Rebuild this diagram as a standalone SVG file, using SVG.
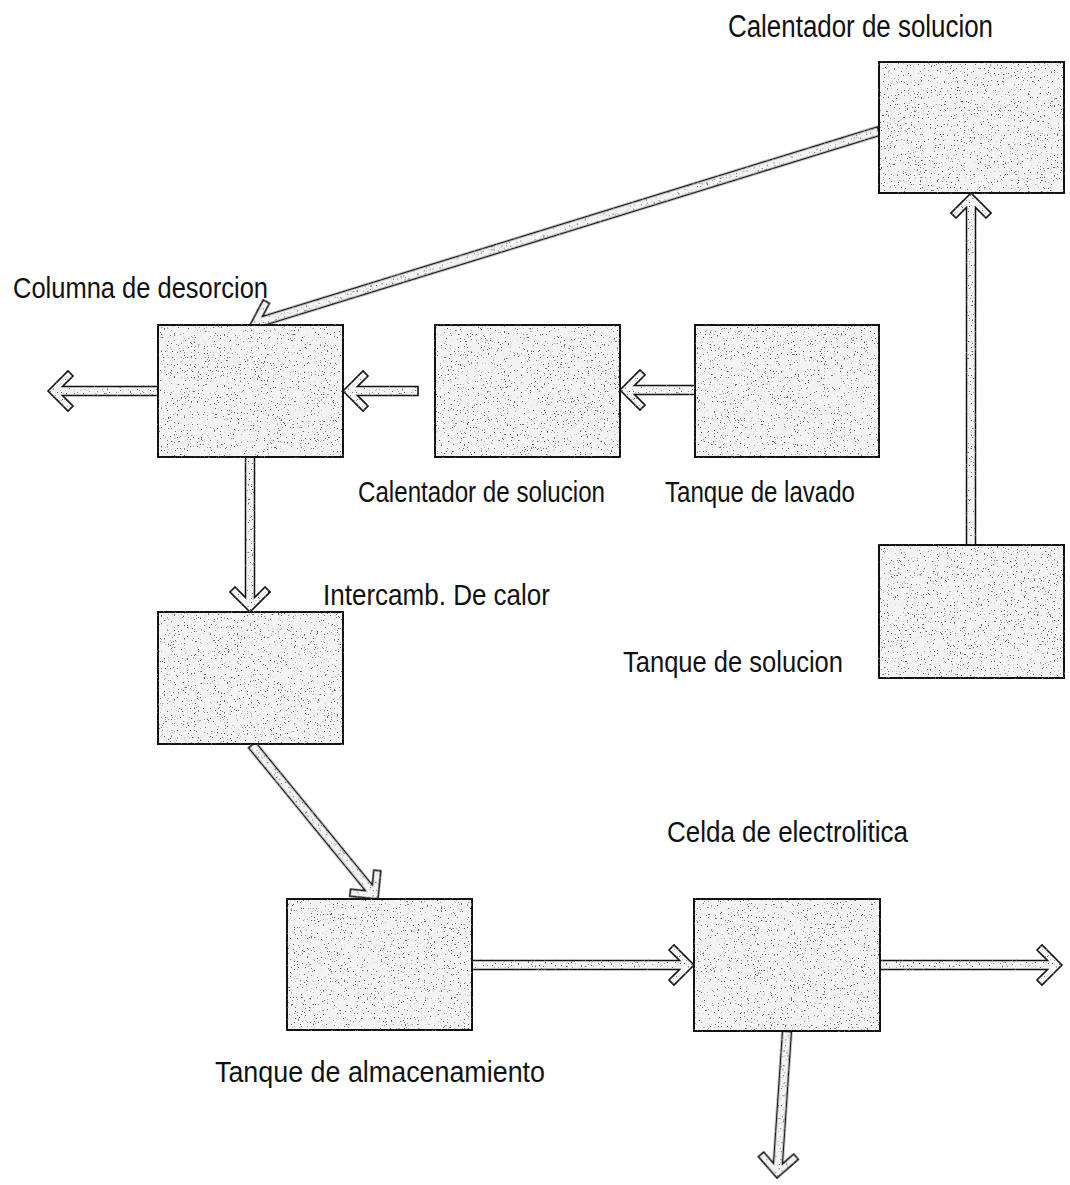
<svg xmlns="http://www.w3.org/2000/svg" width="1070" height="1185" viewBox="0 0 1070 1185">
  <style>
    .box { fill: #f3f3f3; stroke: #111; stroke-width: 2; filter: url(#stipple); }
    .pipe { fill: #f3f3f3; stroke: #111; stroke-width: 1.6; stroke-linejoin: miter; filter: url(#stipple); }
    .lbl { font-family: "Liberation Sans", Arial, sans-serif; font-size: 29px; fill: #111; }
  </style>
  <defs>
    <!-- speckled grey texture for equipment blocks and pipes -->
    <filter id="stipple" x="-5%" y="-5%" width="110%" height="110%" color-interpolation-filters="sRGB">
      <feTurbulence type="fractalNoise" baseFrequency="0.7" numOctaves="2" seed="7" result="noise"/>
      <feColorMatrix in="noise" type="matrix" values="0 0 0 0 0.4  0 0 0 0 0.4  0 0 0 0 0.4  12 0 0 0 -7.9" result="dots"/>
      <feComposite in="dots" in2="SourceAlpha" operator="in" result="clipped"/>
      <feMerge>
        <feMergeNode in="SourceGraphic"/>
        <feMergeNode in="clipped"/>
      </feMerge>
    </filter>
  </defs>

  <rect width="1070" height="1185" fill="#fff"/>

  <!-- flow connectors: hollow pipes with open chevron heads, tip at local origin -->
  <g id="connectors">
    <polygon class="pipe" transform="translate(250,325) rotate(162.86)" points="0,0 -20,-20 -25,-15 -14.5,-4.5 -658,-4.5 -658,4.5 -14.5,4.5 -25,15 -20,20"/>
    <polygon class="pipe" transform="translate(48,391) rotate(180)" points="0,0 -20,-20 -25,-15 -14.5,-4.5 -110,-4.5 -110,4.5 -14.5,4.5 -25,15 -20,20"/>
    <polygon class="pipe" transform="translate(343,391) rotate(180)" points="0,0 -20,-20 -25,-15 -14.5,-4.5 -75,-4.5 -75,4.5 -14.5,4.5 -25,15 -20,20"/>
    <polygon class="pipe" transform="translate(620,390) rotate(180)" points="0,0 -20,-20 -25,-15 -14.5,-4.5 -75,-4.5 -75,4.5 -14.5,4.5 -25,15 -20,20"/>
    <polygon class="pipe" transform="translate(250,612) rotate(90)" points="0,0 -20,-20 -25,-15 -14.5,-4.5 -155,-4.5 -155,4.5 -14.5,4.5 -25,15 -20,20"/>
    <polygon class="pipe" transform="translate(378,899) rotate(50.71)" points="0,0 -20,-20 -25,-15 -14.5,-4.5 -199,-4.5 -199,4.5 -14.5,4.5 -25,15 -20,20"/>
    <polygon class="pipe" transform="translate(694,965)" points="0,0 -20,-20 -25,-15 -14.5,-4.5 -222,-4.5 -222,4.5 -14.5,4.5 -25,15 -20,20"/>
    <polygon class="pipe" transform="translate(1062,965)" points="0,0 -20,-20 -25,-15 -14.5,-4.5 -182,-4.5 -182,4.5 -14.5,4.5 -25,15 -20,20"/>
    <polygon class="pipe" transform="translate(777,1178) rotate(93.89)" points="0,0 -20,-20 -25,-15 -14.5,-4.5 -147,-4.5 -147,4.5 -14.5,4.5 -25,15 -20,20"/>
    <polygon class="pipe" transform="translate(971,193) rotate(-90)" points="0,0 -20,-20 -25,-15 -14.5,-4.5 -352,-4.5 -352,4.5 -14.5,4.5 -25,15 -20,20"/>
  </g>

  <g id="calentador-solucion-1">
    <rect class="box" x="879" y="62" width="185" height="131"/>
    <text class="lbl" x="728" y="37" style="font-size:31px" textLength="265" lengthAdjust="spacingAndGlyphs">Calentador de solucion</text>
  </g>

  <g id="columna-desorcion">
    <rect class="box" x="158" y="325" width="185" height="132"/>
    <text class="lbl" x="13" y="298" textLength="255" lengthAdjust="spacingAndGlyphs">Columna de desorcion</text>
  </g>

  <g id="calentador-solucion-2">
    <rect class="box" x="435" y="325" width="185" height="132"/>
    <text class="lbl" x="358" y="502" textLength="247" lengthAdjust="spacingAndGlyphs">Calentador de solucion</text>
  </g>

  <g id="tanque-lavado">
    <rect class="box" x="695" y="325" width="184" height="132"/>
    <text class="lbl" x="665" y="502" textLength="190" lengthAdjust="spacingAndGlyphs">Tanque de lavado</text>
  </g>

  <g id="tanque-solucion">
    <rect class="box" x="879" y="545" width="185" height="133"/>
    <text class="lbl" x="623" y="672" textLength="220" lengthAdjust="spacingAndGlyphs">Tanque de solucion</text>
  </g>

  <g id="intercambiador-calor">
    <rect class="box" x="158" y="612" width="185" height="132"/>
    <text class="lbl" x="323" y="605" textLength="227" lengthAdjust="spacingAndGlyphs">Intercamb. De calor</text>
  </g>

  <g id="tanque-almacenamiento">
    <rect class="box" x="287" y="899" width="185" height="131"/>
    <text class="lbl" x="215" y="1082" textLength="330" lengthAdjust="spacingAndGlyphs">Tanque de almacenamiento</text>
  </g>

  <g id="celda-electrolitica">
    <rect class="box" x="694" y="899" width="186" height="132"/>
    <text class="lbl" x="667" y="842" textLength="241" lengthAdjust="spacingAndGlyphs">Celda de electrolitica</text>
  </g>
</svg>
